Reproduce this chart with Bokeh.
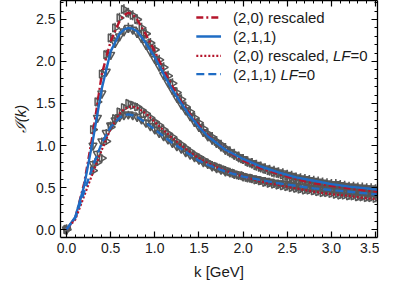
import math
from bokeh.plotting import figure
from bokeh.models import (Range1d, LinearAxis, SingleIntervalTicker, Label, ColumnDataSource,
                          PrintfTickFormatter)
from bokeh.embed import file_html
from bokeh.resources import INLINE

# ---------------- data ----------------
k_curve = [0.0, 0.1, 0.2, 0.3, 0.4, 0.5, 0.6, 0.65, 0.7, 0.75, 0.8, 0.9, 1.0, 1.1, 1.2, 1.3, 1.4,
           1.5, 1.6, 1.8, 2.0, 2.2, 2.4, 2.6, 2.8, 3.0, 3.2, 3.4, 3.55]
red_rescaled = [0.0, 0.14, 0.55, 1.15, 1.85, 2.24, 2.48, 2.55, 2.58, 2.56, 2.50, 2.32, 2.12, 1.90, 1.70,
                1.52, 1.37, 1.24, 1.12, 0.95, 0.82, 0.73, 0.66, 0.60, 0.55, 0.52, 0.49, 0.46, 0.45]
blue_211 = [0.0, 0.15, 0.52, 1.07, 1.68, 2.12, 2.33, 2.38, 2.40, 2.39, 2.36, 2.22, 2.05, 1.85, 1.66,
            1.50, 1.35, 1.22, 1.11, 0.95, 0.84, 0.75, 0.68, 0.62, 0.58, 0.54, 0.51, 0.49, 0.47]
red_rescaled_lf0 = [0.0, 0.12, 0.40, 0.68, 0.95, 1.20, 1.38, 1.43, 1.46, 1.46, 1.45, 1.38, 1.28, 1.18, 1.09,
                    1.00, 0.92, 0.85, 0.79, 0.70, 0.63, 0.57, 0.53, 0.49, 0.45, 0.42, 0.40, 0.37, 0.36]
blue_211_lf0 = [0.0, 0.14, 0.45, 0.76, 1.03, 1.22, 1.33, 1.36, 1.37, 1.36, 1.34, 1.27, 1.19, 1.11, 1.03,
                0.96, 0.89, 0.82, 0.77, 0.69, 0.63, 0.59, 0.55, 0.52, 0.49, 0.47, 0.45, 0.43, 0.41]

k_pts = [0.0, 0.3, 0.35, 0.4, 0.45, 0.5, 0.55, 0.6, 0.65, 0.7, 0.75, 0.8, 0.85, 0.9, 0.95,
         1.0, 1.05, 1.1, 1.15, 1.2, 1.25, 1.3, 1.35, 1.4, 1.45, 1.5, 1.55, 1.6, 1.65, 1.7, 1.75,
         1.8, 1.85, 1.9, 1.95, 2.0, 2.05, 2.1, 2.15, 2.2, 2.25, 2.3, 2.35, 2.4, 2.45, 2.5, 2.55,
         2.6, 2.65, 2.7, 2.75, 2.8, 2.85, 2.9, 2.95, 3.0, 3.05, 3.1, 3.15, 3.2, 3.25, 3.3, 3.35,
         3.4, 3.45, 3.5]
pts_red_up = [0.0, 1.19, 1.52, 1.85, 2.08, 2.28, 2.40, 2.52, 2.62, 2.58, 2.55, 2.50, 2.40, 2.33, 2.22,
              2.14, 2.02, 1.93, 1.83, 1.74, 1.63, 1.55, 1.46, 1.40, 1.33, 1.27, 1.20, 1.14, 1.10, 1.05, 1.01,
              0.97, 0.93, 0.90, 0.87, 0.84, 0.81, 0.79, 0.76, 0.74, 0.72, 0.70, 0.68, 0.67, 0.65, 0.64, 0.62,
              0.61, 0.59, 0.58, 0.57, 0.56, 0.55, 0.54, 0.53, 0.52, 0.52, 0.51, 0.50, 0.49, 0.49, 0.48, 0.47,
              0.47, 0.46, 0.46]
pts_blue_up = [0.0, 1.00, 1.33, 1.62, 1.88, 2.08, 2.22, 2.30, 2.36, 2.40, 2.38, 2.34, 2.28, 2.20, 2.12,
               2.03, 1.94, 1.84, 1.75, 1.66, 1.57, 1.49, 1.42, 1.35, 1.28, 1.22, 1.16, 1.11, 1.07, 1.03, 0.99,
               0.95, 0.92, 0.89, 0.86, 0.84, 0.81, 0.79, 0.77, 0.75, 0.73, 0.71, 0.70, 0.68, 0.67, 0.65, 0.64,
               0.62, 0.61, 0.60, 0.59, 0.58, 0.57, 0.56, 0.55, 0.54, 0.54, 0.53, 0.52, 0.51, 0.51, 0.50, 0.50,
               0.49, 0.49, 0.48]
pts_red_lo = [0.0, 0.70, 0.80, 0.85, 1.05, 1.22, 1.32, 1.40, 1.45, 1.50, 1.48, 1.46, 1.42, 1.38, 1.33,
              1.28, 1.24, 1.19, 1.14, 1.10, 1.05, 1.01, 0.97, 0.93, 0.89, 0.86, 0.83, 0.80, 0.77, 0.75, 0.73,
              0.71, 0.69, 0.67, 0.65, 0.64, 0.62, 0.61, 0.59, 0.58, 0.56, 0.55, 0.54, 0.53, 0.52, 0.51, 0.50,
              0.49, 0.48, 0.47, 0.47, 0.46, 0.45, 0.44, 0.44, 0.43, 0.42, 0.41, 0.41, 0.40, 0.40, 0.39, 0.39,
              0.38, 0.38, 0.37]
pts_blue_lo = [0.0, 0.78, 0.90, 1.05, 1.15, 1.24, 1.30, 1.34, 1.36, 1.37, 1.36, 1.34, 1.31, 1.27, 1.23,
               1.19, 1.15, 1.11, 1.07, 1.03, 0.99, 0.96, 0.92, 0.89, 0.86, 0.83, 0.80, 0.78, 0.75, 0.73, 0.71,
               0.69, 0.68, 0.66, 0.65, 0.63, 0.62, 0.61, 0.60, 0.59, 0.58, 0.57, 0.56, 0.55, 0.55, 0.54, 0.53,
               0.52, 0.51, 0.51, 0.50, 0.49, 0.49, 0.48, 0.48, 0.47, 0.47, 0.46, 0.46, 0.45, 0.45, 0.44, 0.44,
               0.43, 0.43, 0.42]
err_up = 0.06
err_lo = 0.045

legend_labels = [("(2,0) rescaled", None), ("(2,1,1)", None),
                 ("(2,0) rescaled, ", "LF", "=0"), ("(2,1,1) ", "LF", "=0")]

# ---------------- style ----------------
RED = "#b5152b"
BLUE = "#1f6cc4"
GRAY = "#575757"
FONT = "Liberation Sans"

p = figure(width=379, height=283, output_backend="svg", toolbar_location=None,
           x_range=Range1d(-0.068, 3.522), y_range=Range1d(-0.095, 2.726),
           min_border_left=60, min_border_right=2, min_border_top=0, min_border_bottom=46,
           x_axis_location=None, y_axis_location=None)
p.grid.visible = False
p.outline_line_color = None
p.background_fill_color = "white"


def make_axis(show_labels, title=None, italic=False, standoff=6):
    ax = LinearAxis(ticker=SingleIntervalTicker(interval=0.5, num_minor_ticks=5),
                    formatter=PrintfTickFormatter(format="%.1f"))
    ax.axis_line_color = "black"
    ax.axis_line_width = 1.3
    ax.major_tick_in = 6
    ax.major_tick_out = 0
    ax.minor_tick_in = 3
    ax.minor_tick_out = 0
    ax.major_tick_line_color = "black"
    ax.minor_tick_line_color = "black"
    ax.major_tick_line_width = 1.2
    ax.minor_tick_line_width = 1.0
    if show_labels:
        ax.major_label_text_font = FONT
        ax.major_label_text_font_size = "14px"
        ax.major_label_text_color = "#1a1a1a"
        ax.major_label_standoff = 5
    else:
        ax.major_label_text_font_size = "0px"
        ax.major_label_standoff = 0
        ax.major_label_text_alpha = 0
    if title is not None:
        ax.axis_label = title
        ax.axis_label_text_font = FONT
        ax.axis_label_text_font_size = "15px"
        ax.axis_label_text_font_style = "italic" if italic else "normal"
        ax.axis_label_text_color = "#1a1a1a"
        ax.axis_label_standoff = standoff
    return ax


p.add_layout(make_axis(True, "k [GeV]", False, 7), "below")
p.add_layout(make_axis(True, "ℐ(k)", True, 4), "left")
p.add_layout(make_axis(False), "above")
p.add_layout(make_axis(False), "right")

# data points with error bars
for ys, err, marker, ang in [(pts_red_up, err_up, "triangle", -math.pi / 2),
                             (pts_blue_up, err_up, "inverted_triangle", 0.0),
                             (pts_red_lo, err_lo, "triangle", -math.pi / 2),
                             (pts_blue_lo, err_lo, "inverted_triangle", 0.0)]:
    src = ColumnDataSource(dict(x=k_pts, y=ys,
                                lo=[v - err for v in ys], hi=[v + err for v in ys]))
    p.segment(x0="x", y0="lo", x1="x", y1="hi", source=src, line_color=GRAY, line_width=1.6)
    p.scatter(x="x", y="y", source=src, marker=marker, angle=ang, size=8,
              fill_color=None, line_color=GRAY, line_width=1.5)

# curves
p.line(k_curve, red_rescaled, line_color=RED, line_width=2.4, line_dash="7 3 2 3")
p.line(k_curve, blue_211, line_color=BLUE, line_width=2.4)
p.line(k_curve, red_rescaled_lf0, line_color=RED, line_width=2.2, line_dash="2 2")
p.line(k_curve, blue_211_lf0, line_color=BLUE, line_width=2.4, line_dash="8 4")

# legend (layout positions in data units)
leg_x0, leg_x1, leg_tx = 1.47, 1.75, 1.885
leg_rows = [2.524, 2.298, 2.068, 1.85]
leg_styles = [dict(line_color=RED, line_width=2.4, line_dash="7 3 2 3"),
              dict(line_color=BLUE, line_width=2.4),
              dict(line_color=RED, line_width=2.2, line_dash="2 2"),
              dict(line_color=BLUE, line_width=2.4, line_dash="8 4")]
char_w = {"(": 333, ")": 333, "2": 556, "0": 556, "1": 556, ",": 278, " ": 278, "r": 333, "e": 556,
          "s": 500, "c": 500, "a": 556, "l": 222, "d": 556, "L": 556, "F": 611, "=": 584}


def text_width(s, size):
    return sum(char_w.get(ch, 556) for ch in s) * size / 1000.0


for row_y, sty, lab in zip(leg_rows, leg_styles, legend_labels):
    p.line([leg_x0, leg_x1], [row_y, row_y], **sty)
    off = 0.0
    for i, piece in enumerate(lab):
        if piece is None:
            continue
        p.add_layout(Label(x=leg_tx, y=row_y, x_offset=off, text=piece, text_font=FONT,
                           text_font_size="15px", text_baseline="middle", text_color="#1a1a1a",
                           text_font_style="italic" if i == 1 else "normal"))
        off += text_width(piece, 15)

open("out.html", "w").write(file_html(p, INLINE))
